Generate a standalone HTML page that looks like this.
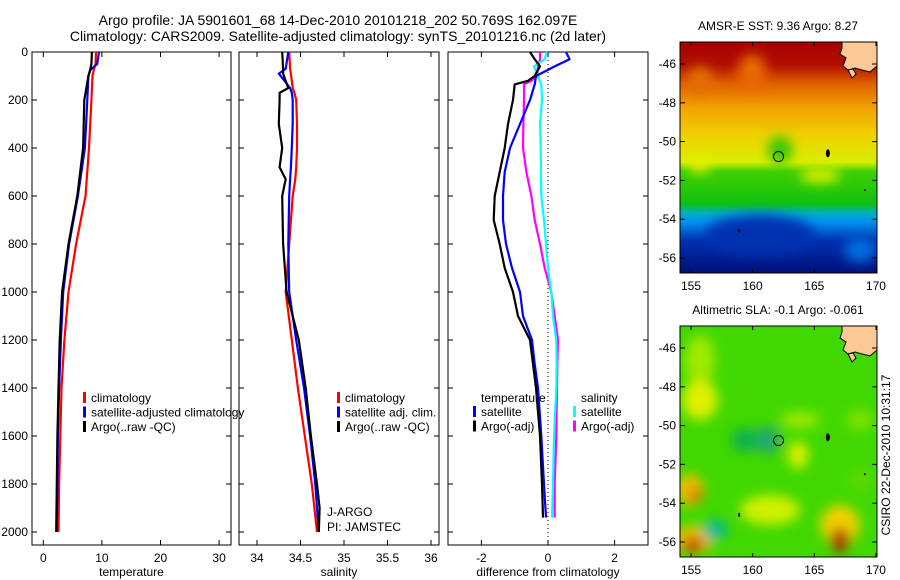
<!DOCTYPE html>
<html><head><meta charset="utf-8"><style>
html,body{margin:0;padding:0;background:#fff;}
svg{display:block;font-family:"Liberation Sans",sans-serif;}
</style></head><body>
<svg id="chart" width="900" height="580" viewBox="0 0 900 580">
<defs>
<linearGradient id="sstgrad" x1="0" y1="0" x2="0" y2="1">
<stop offset="0" stop-color="#a80000"/><stop offset="0.1" stop-color="#b01000"/>
<stop offset="0.18" stop-color="#e06000"/><stop offset="0.28" stop-color="#f0a000"/>
<stop offset="0.4" stop-color="#f0d000"/><stop offset="0.52" stop-color="#d8ee00"/>
<stop offset="0.56" stop-color="#40d000"/><stop offset="0.7" stop-color="#10c010"/>
<stop offset="0.74" stop-color="#00b0c0"/><stop offset="0.78" stop-color="#0090f0"/>
<stop offset="0.86" stop-color="#0030b0"/><stop offset="1" stop-color="#00107a"/>
</linearGradient>
<filter id="blur"><feGaussianBlur stdDeviation="6"/></filter>
<clipPath id="clip1"><rect x="680" y="42" width="197" height="231"/></clipPath>
<clipPath id="clip2"><rect x="680" y="326" width="197" height="231"/></clipPath>
</defs>
<g id="root"></g>
</svg>
<script>
// ---------- data ----------
const depthTicks = [0,200,400,600,800,1000,1200,1400,1600,1800,2000];
const tempTicks = [0,10,20,30];
const salTicks = [34,34.5,35,35.5,36];
const salTickLabels = ["34","34.5","35","35.5","36"];
const diffTicks = [-2,0,2];
const latTicks = [-46,-48,-50,-52,-54,-56];
const lonTicks = [155,160,165,170];

const tDepth = [0,50,75,100,200,400,600,800,1000,1200,1400,1600,1800,2000];
const tempArgo = [8.3,8.2,8.0,7.7,7.0,6.8,5.8,4.3,3.2,2.8,2.6,2.4,2.3,2.2];
const tempSat  = [9.5,9.2,8.0,7.7,7.5,7.1,5.9,4.4,3.4,3.0,2.7,2.5,2.4,2.3];
const tempClim = [9.0,8.9,8.6,8.4,8.2,7.8,7.2,5.6,4.3,3.6,3.1,2.9,2.7,2.6];

const sDepth = [0,70,90,150,170,200,300,400,480,530,600,800,1000,1200,1400,1600,1800,1900,2000];
const salArgo = [34.29,34.30,34.30,34.36,34.26,34.26,34.25,34.29,34.26,34.33,34.29,34.30,34.34,34.48,34.56,34.62,34.69,34.72,34.71];
const salSat  = [34.36,34.33,34.25,34.38,34.40,34.41,34.41,34.40,34.39,34.38,34.37,34.36,34.37,34.45,34.54,34.61,34.67,34.69,34.71];
const salClim = [34.37,34.38,34.39,34.41,34.43,34.45,34.46,34.46,34.45,34.44,34.41,34.37,34.33,34.40,34.47,34.55,34.63,34.66,34.69];

const dDepth = [0,30,60,100,120,135,200,300,400,500,600,700,800,900,1000,1100,1200,1300,1400,1600,1800,1940];
const dTempArgo = [-0.54,-0.4,-0.24,-0.4,-0.6,-1.0,-1.05,-1.2,-1.3,-1.45,-1.6,-1.63,-1.45,-1.3,-1.05,-0.9,-0.54,-0.45,-0.36,-0.24,-0.18,-0.15];
const dTempSat  = [0.54,0.65,0.2,-0.36,-0.38,-0.4,-0.54,-0.84,-1.14,-1.3,-1.35,-1.35,-1.26,-1.08,-0.84,-0.75,-0.48,-0.4,-0.3,-0.2,-0.12,-0.06];
const dSalSat   = [-0.03,-0.1,-0.42,-0.3,-0.25,-0.2,-0.18,-0.24,-0.22,-0.21,-0.2,-0.12,-0.06,0.0,0.1,0.15,0.25,0.26,0.25,0.18,0.15,0.12];
const dSalArgo  = [-0.24,-0.24,-0.3,-0.33,-0.5,-0.72,-0.72,-0.74,-0.75,-0.65,-0.5,-0.4,-0.24,-0.1,0.1,0.2,0.3,0.28,0.27,0.25,0.2,0.2];

const argoLon = 162.097, argoLat = -50.769;

// ---------- helpers ----------
const NS="http://www.w3.org/2000/svg";
const root=document.getElementById('root');
function el(tag,attrs,parent){const e=document.createElementNS(NS,tag);for(const k in attrs)e.setAttribute(k,attrs[k]);(parent||root).appendChild(e);return e;}
function txt(x,y,s,anchor,size,parent){const t=el('text',{x:x,y:y,'text-anchor':anchor||'start','font-size':size||12,fill:'#000'},parent);t.textContent=s;return t;}
const yDepth = d => 52 + d*0.24;
const panelTop=52, panelBot=545;

function panel(x0,x1,name,xs,ticks,labels,xlabel){
  const g=el('g',{});
  
  
  el('rect',{x:x0,y:panelTop,width:x1-x0,height:panelBot-panelTop,fill:'none',stroke:'#000','stroke-width':1},g);
  ticks.forEach((v,i)=>{const x=xs(v);
    el('line',{x1:x,x2:x,y1:panelBot,y2:panelBot-5,stroke:'#000'},g);
    el('line',{x1:x,x2:x,y1:panelTop,y2:panelTop+5,stroke:'#000'},g);
    const t=txt(x,562,labels[i],'middle',12,g);
    
    
  });
  depthTicks.forEach(d=>{const y=yDepth(d);
    el('line',{x1:x0,x2:x0+5,y1:y,y2:y,stroke:'#000'},g);
    el('line',{x1:x1,x2:x1-5,y1:y,y2:y,stroke:'#000'},g);
  });
  const xl=txt((x0+x1)/2,576,xlabel,'middle',12,g);
  
  
  return g;
}
function series(xs,depths,vals,color,name,g){
  const pts=vals.map((v,i)=>xs(v).toFixed(1)+','+yDepth(depths[i]).toFixed(1)).join(' ');
  const p=el('polyline',{points:pts,fill:'none',stroke:color,'stroke-width':2.2,'stroke-linejoin':'round'},g);
  
  
}
function legend(x,y,items,g){
  items.forEach((it,i)=>{
    const yy=y+i*14.5;
    el('rect',{x:x,y:yy-10,width:3,height:11,fill:it[0]},g);
    const t=txt(x+8,yy,it[1],'start',12,g);
    
    
  });
}

// title
const t1=txt(338,25,'Argo profile: JA 5901601_68 14-Dec-2010 20101218_202 50.769S 162.097E','middle',14);


const t2=txt(338,41,'Climatology: CARS2009. Satellite-adjusted climatology: synTS_20101216.nc (2d later)','middle',14);



// y-axis labels
depthTicks.forEach(d=>{const t=txt(28,yDepth(d)+4,String(d),'end',12);
  
  });

// temperature panel
const xT=v=>43.3+5.86*v;
const gT=panel(32,231,'temperature-panel',xT,tempTicks,tempTicks.map(String),'temperature');
series(xT,tDepth,tempClim,'#f00','temperature-climatology-line',gT);
series(xT,tDepth,tempSat,'#00f','temperature-satellite-line',gT);
series(xT,tDepth,tempArgo,'#000','temperature-argo-line',gT);
legend(83,402,[['#f00','climatology'],['#00f','satellite-adjusted climatology'],['#000','Argo(..raw -QC)']],gT);

// salinity panel
const xS=v=>257+87*(v-34);
const gS=panel(239,439,'salinity-panel',xS,salTicks,salTickLabels,'salinity');
series(xS,sDepth,salClim,'#f00','salinity-climatology-line',gS);
series(xS,sDepth,salSat,'#00f','salinity-satellite-line',gS);
series(xS,sDepth,salArgo,'#000','salinity-argo-line',gS);
legend(337,402,[['#f00','climatology'],['#00f','satellite adj. clim.'],['#000','Argo(..raw -QC)']],gS);
txt(327,516,'J-ARGO','start',12,gS);
txt(327,531,'PI: JAMSTEC','start',12,gS);

// difference panel
const xD=v=>548+33.3*v;
const gD=panel(448,648,'difference-panel',xD,diffTicks,diffTicks.map(String),'difference from climatology');
el('line',{x1:xD(0),x2:xD(0),y1:panelTop,y2:panelBot,stroke:'#000','stroke-dasharray':'1,3'},gD);
series(xD,dDepth,dSalArgo,'#f0f','salinity-argo-diff-line',gD);
series(xD,dDepth,dSalSat,'#0ff','salinity-satellite-diff-line',gD);
series(xD,dDepth,dTempSat,'#00f','temperature-satellite-diff-line',gD);
series(xD,dDepth,dTempArgo,'#000','temperature-argo-diff-line',gD);
txt(481,402,'temperature','start',12,gD);
legend(473,416,[['#00f','satellite'],['#000','Argo(-adj)']],gD);
txt(581,402,'salinity','start',12,gD);
legend(573,416,[['#0ff','satellite'],['#f0f','Argo(-adj)']],gD);

// maps
const xLon=v=>691+12.33*(v-155);
function map(top,name,title,clip,fill){
  const off=top-42;
  const yLat=v=>64+off-19.4*(v+46);
  const g=el('g',{});
  
  
  const c=el('g',{'clip-path':'url(#'+clip+')'},g);
  fill(c,off);
  // land
  el('path',{d:`M842 ${42+off} L877 ${42+off} L877 ${66+off} L870 ${72+off} L862 ${70+off} L855 ${68+off} L848 ${70+off} L843 ${66+off} L846 ${58+off} L840 ${54+off} L842 ${48+off} Z`,fill:'#fcc896',stroke:'#000','stroke-width':1},c);
  el('path',{d:`M848 ${70+off} l4 8 l4 -4 l-3 -5 Z`,fill:'#fcc896',stroke:'#000'},c);
  el('ellipse',{cx:xLon(166.1),cy:yLat(-50.6),rx:2,ry:4,fill:'#000'},c);
  el('ellipse',{cx:xLon(158.9),cy:yLat(-54.6),rx:1,ry:2,fill:'#000'},c);
  el('circle',{cx:xLon(169.1),cy:yLat(-52.5),r:1,fill:'#000'},c);
  const mk=el('circle',{cx:xLon(argoLon),cy:yLat(argoLat),r:5,fill:'none',stroke:'#000'},g);
  
  
  el('rect',{x:680,y:top,width:197,height:231,fill:'none',stroke:'#000'},g);
  latTicks.forEach(v=>{const y=yLat(v);
    el('line',{x1:680,x2:685,y1:y,y2:y,stroke:'#000'},g);
    el('line',{x1:877,x2:872,y1:y,y2:y,stroke:'#000'},g);
    const t=txt(676,y+4,String(v),'end',12,g);
    
    });
  lonTicks.forEach(v=>{const x=xLon(v);
    el('line',{x1:x,x2:x,y1:top,y2:top+4,stroke:'#000'},g);
    el('line',{x1:x,x2:x,y1:top+231,y2:top+227,stroke:'#000'},g);
    const t=txt(x,top+248,String(v),'middle',12,g);
    
    });
  const tt=txt(778,top-12,title,'middle',12,g);
  
  
}
map(42,'sst-map','AMSR-E SST: 9.36 Argo: 8.27','clip1',(c,off)=>{
  el('rect',{x:680,y:42,width:197,height:231,fill:'url(#sstgrad)'},c);
  const b=el('g',{filter:'url(#blur)'},c);
  el('ellipse',{cx:752,cy:72,rx:14,ry:18,fill:'#e86a00'},b);
  el('ellipse',{cx:700,cy:80,rx:12,ry:14,fill:'#e07000'},b);
  el('ellipse',{cx:780,cy:150,rx:12,ry:14,fill:'#30c800'},b);
  el('ellipse',{cx:700,cy:165,rx:10,ry:8,fill:'#e8f000'},b);
  el('ellipse',{cx:820,cy:175,rx:20,ry:8,fill:'#d8ee00'},b);
  el('ellipse',{cx:760,cy:235,rx:55,ry:20,fill:'#0030b0'},b);
  el('ellipse',{cx:860,cy:250,rx:16,ry:12,fill:'#0070e0'},b);
});
map(326,'sla-map','Altimetric SLA: -0.1 Argo: -0.061','clip2',(c,off)=>{
  el('rect',{x:680,y:326,width:197,height:231,fill:'#40d800'},c);
  const b=el('g',{filter:'url(#blur)'},c);
  [[700,360,15,25,'#a0e800'],[700,400,18,20,'#e0f000'],[690,490,14,16,'#f0c000'],[695,495,7,8,'#e07000'],
   [693,540,20,14,'#f0c000'],[693,545,10,8,'#c03000'],[745,440,14,12,'#10b050'],[768,440,12,14,'#20a870'],
   [798,455,10,14,'#e0f000'],[770,510,30,15,'#d0f000'],[840,525,20,20,'#f0d000'],[840,540,9,12,'#b01000'],
   [715,530,12,10,'#00b8a0'],[800,420,20,8,'#a0ea00'],[860,420,14,10,'#80e000'],[860,480,12,10,'#60d800']]
   .forEach(e=>el('ellipse',{cx:e[0],cy:e[1],rx:e[2],ry:e[3],fill:e[4]},b));
});
const cs=el('text',{x:0,y:0,'font-size':12,'text-anchor':'middle',transform:'translate(890,455) rotate(-90)'});
cs.textContent='CSIRO 22-Dec-2010 10:31:17';


</script>
</body></html>
